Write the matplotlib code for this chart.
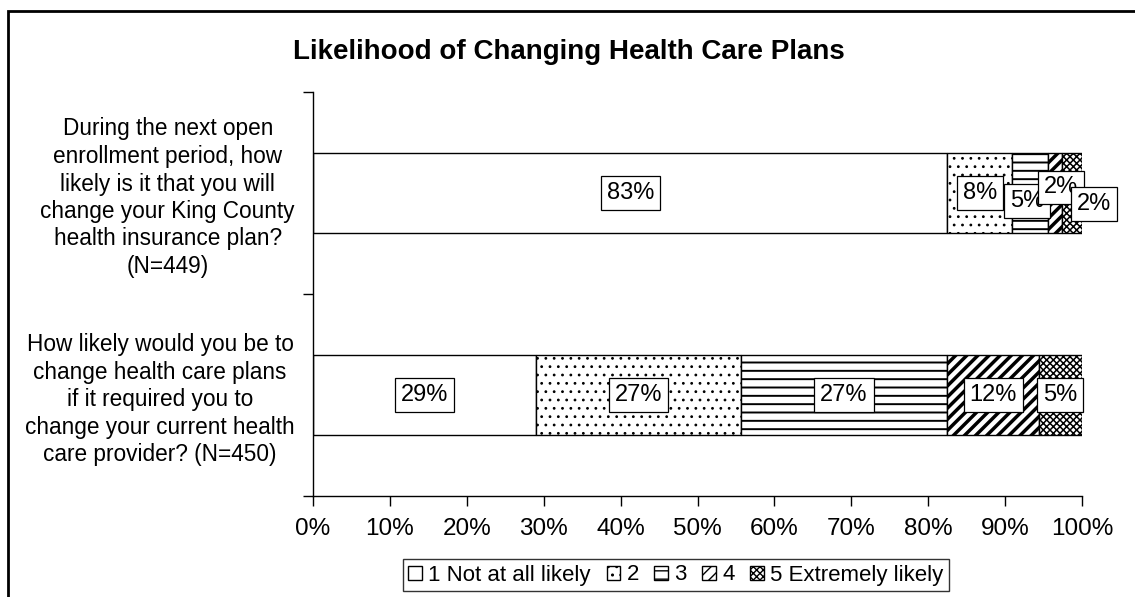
import numpy as np
import matplotlib
matplotlib.use("Agg")
import matplotlib.pyplot as plt
from matplotlib.patches import Rectangle

plt.rcParams['font.family'] = ['Liberation Sans', 'DejaVu Sans']

questions = [
    "During the next open\nenrollment period, how\nlikely is it that you will\nchange your King County\nhealth insurance plan?\n(N=449)",
    "How likely would you be to\nchange health care plans\nif it required you to\nchange your current health\ncare provider? (N=450)",
]
levels = ["1 Not at all likely", "2", "3", "4", "5 Extremely likely"]
# shares (%) per response level, one list per question
plan_change = [82.5, 8.4, 4.7, 1.8, 2.6]
provider_change = [29.0, 26.6, 26.9, 11.9, 5.6]
plan_labels = ["83%", "8%", "5%", "2%", "2%"]
provider_labels = ["29%", "27%", "27%", "12%", "5%"]

values = np.array([plan_change, provider_change])
labels = [plan_labels, provider_labels]

hatches = ['', '..', '--', '///', 'xxxxx']
hatch_lw = [1.0, 0.8, 1.4, 2.5, 1.1]
# label nudges (points) where Excel moved overlapping labels
nudges = [[(0, 0), (0, 0), (-2, -6), (4, 4), (16, -8)],
          [(0, 0)] * 5]

fig = plt.figure(figsize=(11.35, 5.97), dpi=100)
ax = fig.add_axes([313 / 1135, 1 - 496 / 597, (1082 - 313) / 1135, (496 - 92) / 597])

y = np.arange(len(questions))
left = np.zeros(len(questions))
for j, lev in enumerate(levels):
    with plt.rc_context({'hatch.linewidth': hatch_lw[j]}):
        bars = ax.barh(y, values[:, j] / 100, left=left, height=0.4, color='white',
                       edgecolor='black', linewidth=1.0, hatch=hatches[j], label=lev)
    for i, b in enumerate(bars):
        if hasattr(b, 'set_hatch_linewidth'):
            b.set_hatch_linewidth(hatch_lw[j])
        cx = b.get_x() + b.get_width() / 2
        dx, dy = nudges[i][j]
        ax.annotate(labels[i][j], (cx, y[i]), xytext=(dx, dy), textcoords='offset points',
                    ha='center', va='center', fontsize=17,
                    bbox=dict(boxstyle='square,pad=0.25', fc='white', ec='black', lw=0.9))
    left += values[:, j] / 100

ax.set_xlim(0, 1)
ax.set_ylim(1.5, -0.5)
ticks = np.arange(0, 1.01, 0.1)
ax.set_xticks(ticks)
ax.set_xticklabels([f"{int(round(t * 100))}%" for t in ticks], fontsize=17.5)
ax.tick_params(axis='x', direction='out', length=7, width=1, pad=9)
ax.set_yticks(y)
ax.set_yticklabels(questions, fontsize=16.3, multialignment='center', linespacing=1.25)
ax.tick_params(axis='y', which='major', length=0, pad=13)
ax.set_yticks([-0.5, 0.5, 1.5], minor=True)
ax.tick_params(axis='y', which='minor', direction='out', length=7, width=1)
for s in ['top', 'right']:
    ax.spines[s].set_visible(False)
for s in ['left', 'bottom']:
    ax.spines[s].set_linewidth(1.0)

fig.text(569 / 1135, 1 - 52 / 597, "Likelihood of Changing Health Care Plans",
         ha='center', va='center', fontsize=20, fontweight='bold')

leg = fig.legend(loc='center', bbox_to_anchor=(676 / 1135, 1 - 575 / 597), ncol=5,
                 fontsize=16, frameon=True, fancybox=False, edgecolor='black',
                 handlelength=0.6, handleheight=0.6, handletextpad=0.3,
                 columnspacing=0.7, borderpad=0.25, borderaxespad=0)
leg.get_frame().set_linewidth(1.0)

fig.patches.append(Rectangle((8 / 1135, -0.01), 1.02, 1 - 11 / 597 + 0.01,
                             transform=fig.transFigure, fill=False, ec='black', lw=2))

fig.savefig("out.png", dpi=100)
